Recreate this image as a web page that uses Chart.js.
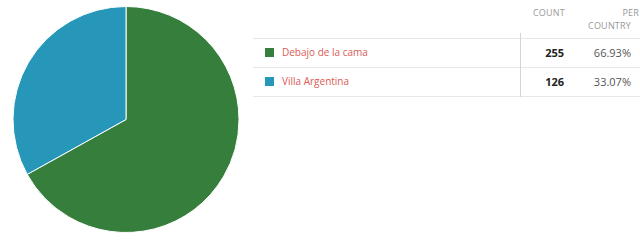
<!DOCTYPE html>
<html>
<head>
<meta charset="utf-8">
<script src="https://cdn.jsdelivr.net/npm/chart.js@4/dist/chart.umd.min.js"></script>
<style>
  html, body { margin: 0; padding: 0; background: #fff; width: 640px; height: 240px; overflow: hidden; font-family: "Open Sans", sans-serif; }
  #pieBox { position: absolute; left: 0; top: 0; width: 252px; height: 240px; }
  #tbl { position: absolute; left: 253px; top: 0; width: 387px; }
  .hdr { position: absolute; color: #999; font-size: 9px; letter-spacing: 0.2px; }
  .hline { position: absolute; left: 0; width: 387px; height: 1px; background: #e8e8e8; }
  .vline { position: absolute; left: 267px; top: 33px; width: 1px; height: 64px; background: #d5d5d5; }
  .row { position: absolute; left: 0; width: 387px; height: 29px; font-size: 11px; }
  .sw { position: absolute; left: 12px; top: 10px; width: 9px; height: 9px; }
  .lbl { position: absolute; left: 29px; top: 7px; color: #dc5a56; font-size: 10px; }
  .cnt { position: absolute; right: 76px; top: 7px; font-weight: bold; color: #222; }
  .pct { position: absolute; right: 9px; top: 7px; color: #555; }
</style>
</head>
<body>
<div id="pieBox"><canvas id="c"></canvas></div>
<div id="tbl"></div>
<script>
const categories = ["Debajo de la cama", "Villa Argentina"];
const counts = [255, 126];
const percents = ["66.93%", "33.07%"];
const colors = ["#367e3c", "#2696b9"];
const headers = ["COUNT", "PER", "COUNTRY"];

new Chart(document.getElementById('c'), {
  type: 'pie',
  data: {
    labels: categories,
    datasets: [{ data: counts, backgroundColor: colors, borderColor: '#ffffff', borderWidth: 1 }]
  },
  options: {
    responsive: true,
    maintainAspectRatio: false,
    animation: false,
    layout: { padding: { top: 6, bottom: 7, left: 0, right: 0 } },
    plugins: { legend: { display: false }, tooltip: { enabled: false } }
  }
});

const tbl = document.getElementById('tbl');
let html = '';
html += '<div class="hdr" style="left:280px;top:6px;">' + headers[0] + '</div>';
html += '<div class="hdr" style="right:1px;top:6px;">' + headers[1] + '</div>';
html += '<div class="hdr" style="right:9px;top:19px;">' + headers[2] + '</div>';
html += '<div class="hline" style="top:38px;"></div>';
categories.forEach((name, i) => {
  const top = 38 + i * 29;
  html += '<div class="row" style="top:' + top + 'px;">' +
    '<div class="sw" style="background:' + colors[i] + '"></div>' +
    '<div class="lbl">' + name + '</div>' +
    '<div class="cnt">' + counts[i] + '</div>' +
    '<div class="pct">' + percents[i] + '</div></div>';
  html += '<div class="hline" style="top:' + (top + 29) + 'px;"></div>';
});
html += '<div class="vline"></div>';
tbl.innerHTML = html;
</script>
</body>
</html>
